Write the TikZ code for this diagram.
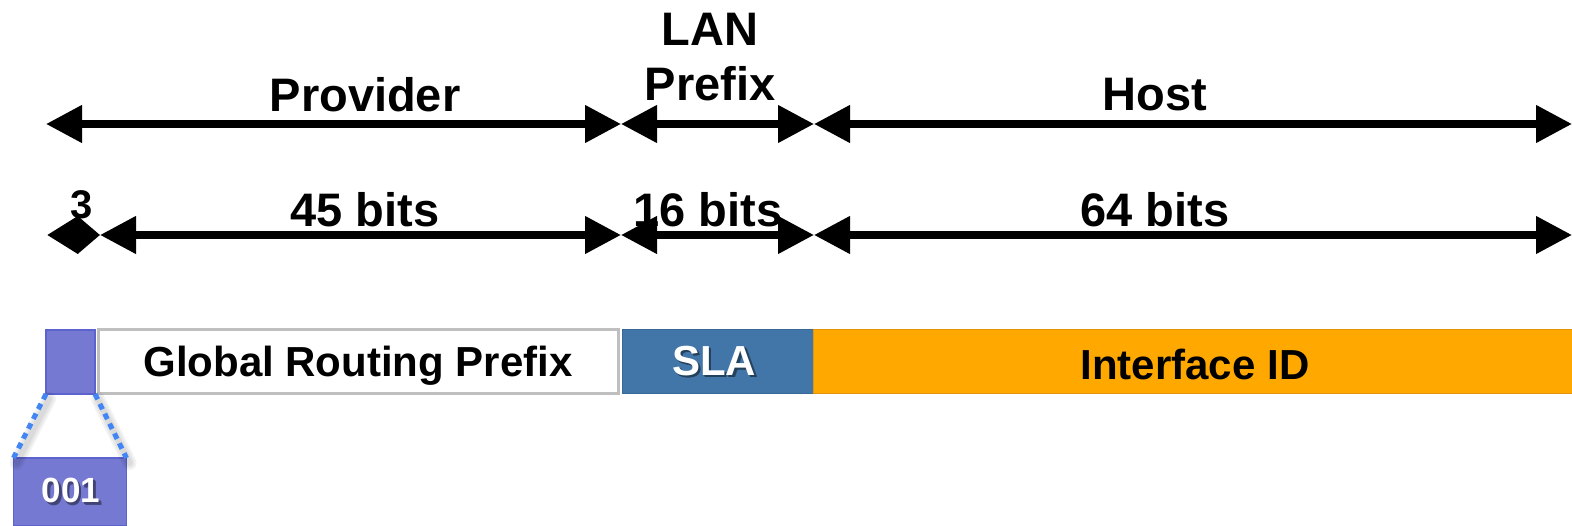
\documentclass[tikz,border=0pt]{standalone}
\usepackage{fontspec}
\setmainfont{Liberation Sans}
\usetikzlibrary{arrows.meta}

\definecolor{bitpurple}{RGB}{117,121,210}
\definecolor{bitpurpleedge}{RGB}{92,98,206}
\definecolor{slablue}{RGB}{66,118,168}
\definecolor{slaedge}{RGB}{56,104,152}
\definecolor{ifaceorange}{RGB}{254,168,0}
\definecolor{ifaceedge}{RGB}{226,148,10}
\definecolor{zoomblue}{RGB}{66,133,244}

\tikzset{
  span/.style={line width=7.5pt, {Triangle[length=36pt,width=36pt]}-{Triangle[length=36pt,width=36pt]}},
  shortspan/.style={line width=7.5pt, {Triangle[length=31pt,width=36pt]}-{Triangle[length=22pt,width=36pt]}},
  toplabel/.style={font=\bfseries\fontsize{47}{50}\selectfont, inner sep=0pt},
  field/.style={rectangle, inner sep=0pt, outer sep=0pt, minimum height=64pt,
    font=\bfseries\fontsize{42}{44}\selectfont},
  zoomline/.style={zoomblue, line width=5pt, dash pattern=on 6pt off 5pt},
  zoomshadow/.style={black, opacity=0.05, line width=#1, line cap=round},
}

% white text over a soft darker drop shadow, all in one box
\newcommand{\softshadow}[2]{%
  \rlap{\kern1.5pt\raisebox{-1.5pt}{\textcolor{#1!75!black}{#2}}}%
  \rlap{\kern2.5pt\raisebox{-2.5pt}{\textcolor{#1!60!black}{#2}}}%
  \rlap{\kern2pt\raisebox{-2pt}{\textcolor{#1!55!black}{#2}}}%
  \textcolor{white}{#2}}

\begin{document}
\begin{tikzpicture}[x=1pt,y=-1pt]
\useasboundingbox (0,0) rectangle (1572,526);

% ---- span arrows, upper row
\coordinate (p0) at (46,124);
\coordinate (p1) at (621,124);
\coordinate (p2) at (814,124);
\coordinate (p3) at (1572,124);
\draw[span] (p0) -- (p1);
\draw[span] (p1) -- (p2);
\draw[span] (p2) -- (p3);

\node[toplabel] (provider) at (365,95) {Provider};
\node[toplabel, align=center] (lan) at (710,57) {LAN\\[5pt]Prefix};
\node[toplabel] (host) at (1155,95) {Host};

% ---- span arrows, bit counts
\coordinate (q0) at (47,235);
\coordinate (q1) at (100,235);
\coordinate (q2) at (621,235);
\coordinate (q3) at (814,235);
\coordinate (q4) at (1572,235);
\draw[shortspan] (q0) -- (q1);
\draw[span] (q1) -- (q2);
\draw[span] (q2) -- (q3);
\draw[span] (q3) -- (q4);

\node[toplabel, font=\bfseries\fontsize{40}{42}\selectfont] (three) at (82,205) {3};
\node[toplabel] (b45) at (365,210) {45 bits};
\node[toplabel] (b16) at (708,210) {16 bits};
\node[toplabel] (b64) at (1155,210) {64 bits};

% ---- address fields
\node[field, minimum width=520pt, draw=black!25, line width=3pt, fill=white] (grp) at (358,362) {};
\node[field] (grptext) at (358,366) {Global Routing Prefix};
\node[field, minimum width=49pt, fill=bitpurple, draw=bitpurpleedge, line width=1.5pt] (fmt) at (70.5,362) {};
\node[field, minimum width=191pt, fill=slablue, draw=slaedge, line width=1pt] (sla) at (717.5,362) {};
\node[field, minimum width=760pt, fill=ifaceorange, draw=ifaceedge, line width=1pt] (iface) at (1193.5,362) {};
\node[field] (slatext) at (714,362) {\softshadow{slablue}{SLA}};
\node[field] (ifacetext) at (1195,364) {Interface ID};

% ---- expanded format prefix
\node[rectangle, inner sep=0pt, outer sep=0pt, minimum width=113pt, minimum height=68pt,
  fill=bitpurple, draw=bitpurpleedge, line width=1.5pt] (fmtbig) at (70,492) {};
\foreach \w in {14pt,10pt,6pt}{
  \draw[zoomshadow=\w] ([xshift=3pt,yshift=-5pt]fmt.south west) -- ([xshift=3pt,yshift=-5pt]fmtbig.north west);
  \draw[zoomshadow=\w] ([xshift=3pt,yshift=-5pt]fmt.south east) -- ([xshift=3pt,yshift=-5pt]fmtbig.north east);
}
\draw[zoomline] (fmt.south west) -- (fmtbig.north west);
\draw[zoomline] (fmt.south east) -- (fmtbig.north east);
\node[inner sep=0pt, font=\bfseries\fontsize{35}{37}\selectfont] (fmttext) at (71,492) {\softshadow{bitpurple}{001}};
\end{tikzpicture}
\end{document}
